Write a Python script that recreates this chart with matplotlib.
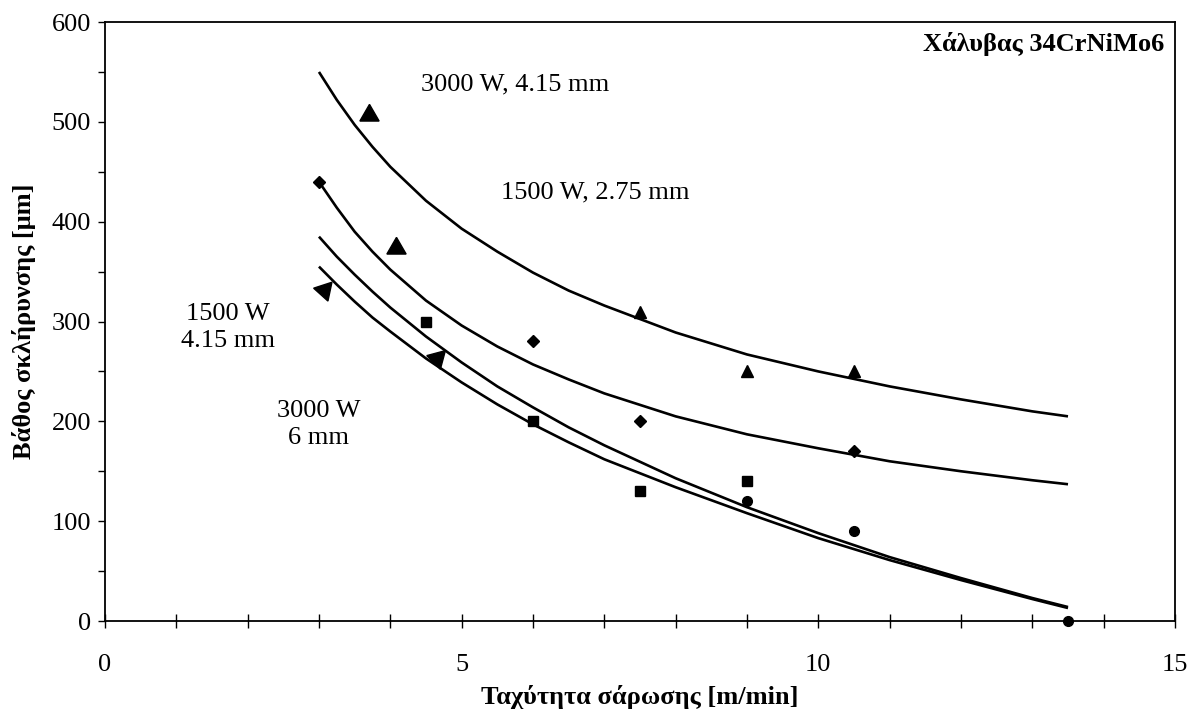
import matplotlib
matplotlib.use('Agg')
import matplotlib.pyplot as plt
from matplotlib.ticker import MultipleLocator

plt.rcParams['font.family'] = ['Liberation Serif', 'DejaVu Serif']

# measured points
speed_tri = [7.5, 9, 10.5]
depth_tri = [310, 250, 250]
speed_dia = [3, 6, 7.5, 10.5]
depth_dia = [440, 280, 200, 170]
speed_sq = [4.5, 6, 7.5, 9]
depth_sq = [300, 200, 130, 140]
speed_circ = [9, 10.5, 13.5]
depth_circ = [120, 90, 0]

# trend lines
curve_x = [3, 3.25, 3.5, 3.75, 4, 4.5, 5, 5.5, 6, 6.5, 7, 8, 9, 10, 11, 12, 13, 13.5]
curve_3000_415 = [550, 522, 497, 475, 455, 421, 393, 370, 349, 331, 316, 289, 267, 250, 235, 222, 210, 205]
curve_1500_275 = [440, 414, 390, 370, 352, 321, 296, 275, 257, 242, 228, 205, 187, 173, 160, 150, 141, 137]
curve_1500_415 = [385, 365, 347, 330, 314, 285, 259, 235, 214, 194, 176, 143, 114, 88, 64, 43, 23, 14]
curve_3000_6 = [355, 337, 320, 304, 290, 263, 239, 217, 197, 179, 162, 134, 108, 83, 61, 41, 22, 13]

# arrow heads of the labels
arrow_x = [3.7, 4.08, 3.07, 4.66]
arrow_y = [507, 374, 332, 263]
arrow_angle = [0, 0, -42, -45]

fig = plt.figure(figsize=(11.9, 7.2), dpi=100)
ax = fig.add_axes([0.0882, 0.1375, 0.8992, 0.8319])

for c in [curve_3000_415, curve_1500_275, curve_1500_415, curve_3000_6]:
  ax.plot(curve_x, c, color='black', lw=1.9, solid_capstyle='butt', solid_joinstyle='round')

ax.plot(speed_tri, depth_tri, '^', color='black', ms=8, ls='none')
ax.plot(speed_dia, depth_dia, 'D', color='black', ms=6, ls='none')
ax.plot(speed_sq, depth_sq, 's', color='black', ms=6.5, ls='none')
ax.plot(speed_circ, depth_circ, 'o', color='black', ms=7, ls='none', clip_on=False, zorder=5)

for x, y, a in zip(arrow_x, arrow_y, arrow_angle):
  ax.plot([x], [y], marker=(3, 0, a), color='black', ms=16, ls='none')

fs = 19
ax.text(5.75, 537, '3000 W, 4.15 mm', fontsize=fs, ha='center', va='center')
ax.text(6.87, 429, '1500 W, 2.75 mm', fontsize=fs, ha='center', va='center')
ax.text(1.72, 294, '1500 W\n4.15 mm', fontsize=fs, ha='center', va='center', linespacing=1.35)
ax.text(3.0, 197, '3000 W\n6 mm', fontsize=fs, ha='center', va='center', linespacing=1.3)
ax.text(14.85, 578, 'Χάλυβας 34CrNiMo6', fontsize=fs, fontweight='bold', ha='right', va='center')

ax.set_xlim(0, 15)
ax.set_ylim(0, 600)
ax.xaxis.set_major_locator(MultipleLocator(5))
ax.xaxis.set_minor_locator(MultipleLocator(1))
ax.yaxis.set_major_locator(MultipleLocator(100))
ax.yaxis.set_minor_locator(MultipleLocator(50))
ax.tick_params(axis='x', which='both', direction='inout', length=10, width=1, labelsize=fs, pad=19)
ax.tick_params(axis='y', which='both', direction='out', length=5, width=1, labelsize=fs, pad=5)
for s in ax.spines.values():
  s.set_linewidth(1.3)

ax.set_xlabel('Ταχύτητα σάρωσης [m/min]', fontsize=fs, fontweight='bold', labelpad=6)
ax.set_ylabel('Βάθος σκλήρυνσης [μm]', fontsize=fs, fontweight='bold', labelpad=11)

fig.savefig('out.png', dpi=100)
